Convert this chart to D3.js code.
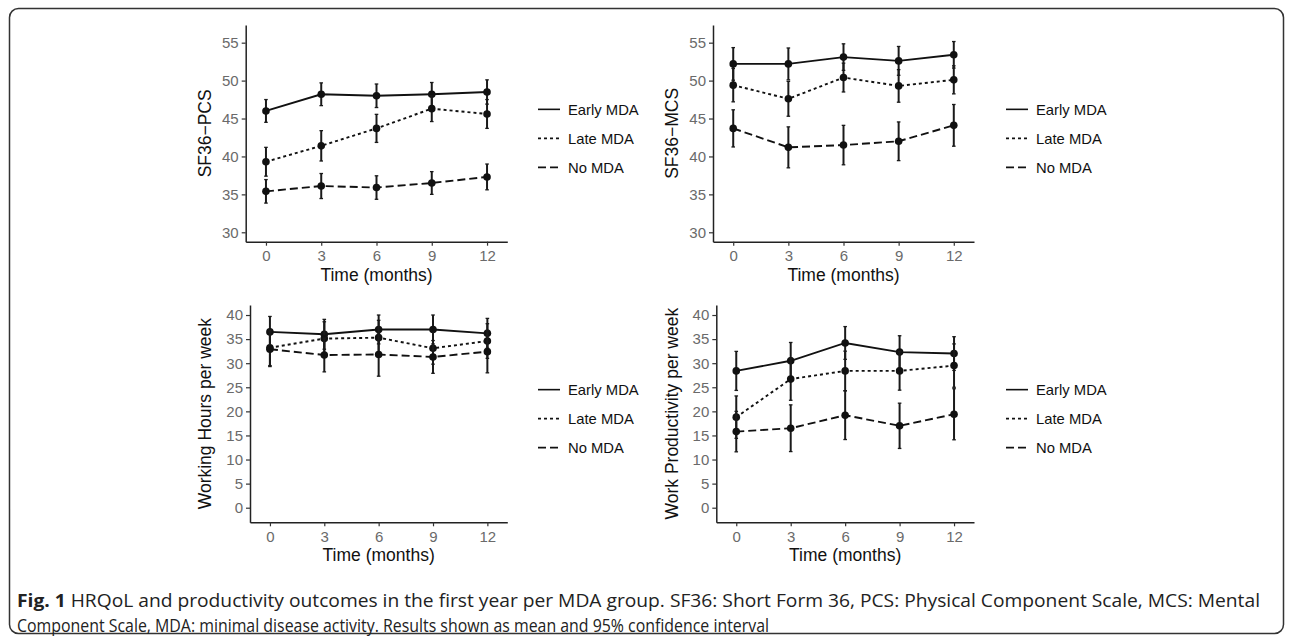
<!DOCTYPE html>
<html>
<head>
<meta charset="utf-8">
<script src="https://cdn.jsdelivr.net/npm/d3@7"></script>
<style>
  body { margin: 0; background: #fff; }
  svg { display: block; }
</style>
</head>
<body>
<svg id="fig" width="1292" height="637"></svg>
<script>
// data (means and half width of 95% CI)
var months = [0, 3, 6, 9, 12];
var groups = ["Early MDA", "Late MDA", "No MDA"];

var pcsMean = [[46.0, 48.2, 48.0, 48.2, 48.5], [39.3, 41.4, 43.7, 46.3, 45.6], [35.4, 36.1, 35.9, 36.5, 37.3]];
var pcsCI   = [[1.5, 1.5, 1.55, 1.55, 1.6], [1.9, 2.0, 1.85, 1.7, 1.9], [1.55, 1.65, 1.55, 1.5, 1.7]];

var mcsMean = [[52.2, 52.2, 53.1, 52.6, 53.4], [49.4, 47.6, 50.4, 49.3, 50.1], [43.7, 41.2, 41.5, 42.0, 44.1]];
var mcsCI   = [[2.15, 2.1, 1.75, 1.9, 1.75], [2.2, 2.3, 1.9, 2.15, 1.85], [2.45, 2.7, 2.6, 2.55, 2.75]];

var hoursMean = [[36.5, 36.0, 37.0, 37.0, 36.2], [33.2, 35.1, 35.3, 33.1, 34.6], [32.9, 31.7, 31.8, 31.3, 32.4]];
var hoursCI   = [[3.2, 3.1, 3.0, 3.0, 3.1], [3.7, 3.5, 3.6, 3.3, 3.6], [3.6, 3.5, 4.5, 3.4, 4.4]];

var prodMean = [[28.4, 30.5, 34.2, 32.3, 32.0], [18.8, 26.7, 28.4, 28.4, 29.5], [15.8, 16.5, 19.2, 17.0, 19.4]];
var prodCI   = [[4.05, 3.8, 3.4, 3.4, 3.5], [4.4, 4.4, 4.1, 4.0, 4.5], [4.2, 4.85, 5.05, 4.7, 5.3]];

var sfTicks = [30, 35, 40, 45, 50, 55];
var workTicks = [0, 5, 10, 15, 20, 25, 30, 35, 40];

var captionBold = "Fig. 1";
var captionLine1 = " HRQoL and productivity outcomes in the first year per MDA group. SF36: Short Form 36, PCS: Physical Component Scale, MCS: Mental";
var captionLine2 = "Component Scale, MDA: minimal disease activity. Results shown as mean and 95% confidence interval";

var dashes = [null, "3,3", "8,4"];
var font = "'Liberation Sans', Arial, sans-serif";

var svg = d3.select("#fig");

// rounded frame round the figure
svg.append("rect")
  .attr("x", 9.5).attr("y", 8.5)
  .attr("width", 1274).attr("height", 625)
  .attr("rx", 9)
  .attr("fill", "none")
  .attr("stroke", "#333")
  .attr("stroke-width", 1.5);

var panels = [
  { title: "SF36\u2212PCS", mean: pcsMean, ci: pcsCI, ticks: sfTicks, yDom: [28.76, 57.33],
    left: 245.7, right: 507.3, top: 25, bottom: 241.7, titleX: 211, legendX: 538 },
  { title: "SF36\u2212MCS", mean: mcsMean, ci: mcsCI, ticks: sfTicks, yDom: [28.76, 57.33],
    left: 713, right: 974, top: 25, bottom: 241.7, titleX: 678, legendX: 1006 },
  { title: "Working Hours per week", mean: hoursMean, ci: hoursCI, ticks: workTicks, yDom: [-3.03, 42.08],
    left: 250, right: 507.3, top: 305, bottom: 522.3, titleX: 211, legendX: 538 },
  { title: "Work Productivity per week", mean: prodMean, ci: prodCI, ticks: workTicks, yDom: [-3.03, 42.08],
    left: 716.3, right: 974, top: 305, bottom: 522.3, titleX: 678, legendX: 1006 }
];

panels.forEach(drawPanel);

function drawPanel(p) {
  var x = d3.scaleLinear().domain([-1.1, 13.1]).range([p.left, p.right]);
  var y = d3.scaleLinear().domain(p.yDom).range([p.bottom, p.top]);
  var g = svg.append("g");

  var ax = g.append("g")
    .attr("transform", "translate(" + p.left + ",0)")
    .call(d3.axisLeft(y).tickValues(p.ticks).tickSize(4).tickSizeOuter(0).tickPadding(3));
  var bx = g.append("g")
    .attr("transform", "translate(0," + p.bottom + ")")
    .call(d3.axisBottom(x).tickValues(months).tickSize(4).tickSizeOuter(0).tickPadding(5));
  [ax, bx].forEach(function (a) {
    a.select(".domain").attr("stroke", "#222").attr("stroke-width", 1.5);
    a.selectAll(".tick line").attr("stroke", "#333").attr("stroke-width", 1.2);
    a.selectAll(".tick text").attr("fill", "#6a6a6a").style("font-family", font).style("font-size", "15px");
  });

  // axis titles
  g.append("text")
    .attr("x", (p.left + p.right) / 2).attr("y", p.bottom + 39)
    .attr("text-anchor", "middle")
    .style("font-family", font).style("font-size", "17.5px").attr("fill", "#111")
    .text("Time (months)");
  g.append("text")
    .attr("transform", "translate(" + p.titleX + "," + (p.top + p.bottom) / 2 + ") rotate(-90)")
    .attr("text-anchor", "middle")
    .style("font-family", font).style("font-size", "17.5px").attr("fill", "#111")
    .text(p.title);

  var line = d3.line()
    .x(function (d, i) { return x(months[i]); })
    .y(function (d) { return y(d); });

  groups.forEach(function (grp, k) {
    var m = p.mean[k], c = p.ci[k];
    // error bars
    var eb = g.append("g").attr("stroke", "#1a1a1a").attr("stroke-width", 2);
    m.forEach(function (v, i) {
      var cx = x(months[i]);
      eb.append("line").attr("x1", cx).attr("x2", cx).attr("y1", y(v - c[i])).attr("y2", y(v + c[i]));
      eb.append("line").attr("x1", cx - 1.8).attr("x2", cx + 1.8).attr("y1", y(v - c[i])).attr("y2", y(v - c[i])).attr("stroke-width", 1.3);
      eb.append("line").attr("x1", cx - 1.8).attr("x2", cx + 1.8).attr("y1", y(v + c[i])).attr("y2", y(v + c[i])).attr("stroke-width", 1.3);
    });
    g.append("path")
      .datum(m)
      .attr("d", line)
      .attr("fill", "none")
      .attr("stroke", "#111")
      .attr("stroke-width", 1.9)
      .attr("stroke-dasharray", dashes[k]);
    g.selectAll(null)
      .data(m)
      .enter().append("circle")
      .attr("cx", function (d, i) { return x(months[i]); })
      .attr("cy", function (d) { return y(d); })
      .attr("r", 3.8)
      .attr("fill", "#111");
  });

  // legend
  var mid = (p.top + p.bottom) / 2 + 5;
  groups.forEach(function (grp, k) {
    var ly = mid + (k - 1) * 29;
    g.append("line")
      .attr("x1", p.legendX).attr("x2", p.legendX + 22)
      .attr("y1", ly).attr("y2", ly)
      .attr("stroke", "#111").attr("stroke-width", 1.6)
      .attr("stroke-dasharray", dashes[k]);
    g.append("text")
      .attr("x", p.legendX + 30).attr("y", ly + 5.3)
      .style("font-family", font).style("font-size", "14.8px").attr("fill", "#111")
      .text(grp);
  });
}

// caption
var cap = svg.append("g").style("font-family", "'Open Sans', 'Noto Sans', sans-serif").style("font-size", "18px").attr("fill", "#222");
var t1 = cap.append("text").attr("x", 17).attr("y", 607)
  .attr("textLength", 1243).attr("lengthAdjust", "spacingAndGlyphs");
t1.append("tspan").style("font-weight", "bold").text(captionBold);
t1.append("tspan").text(captionLine1);
cap.append("text").attr("x", 17).attr("y", 632)
  .attr("textLength", 752).attr("lengthAdjust", "spacingAndGlyphs")
  .text(captionLine2);
</script>
</body>
</html>
